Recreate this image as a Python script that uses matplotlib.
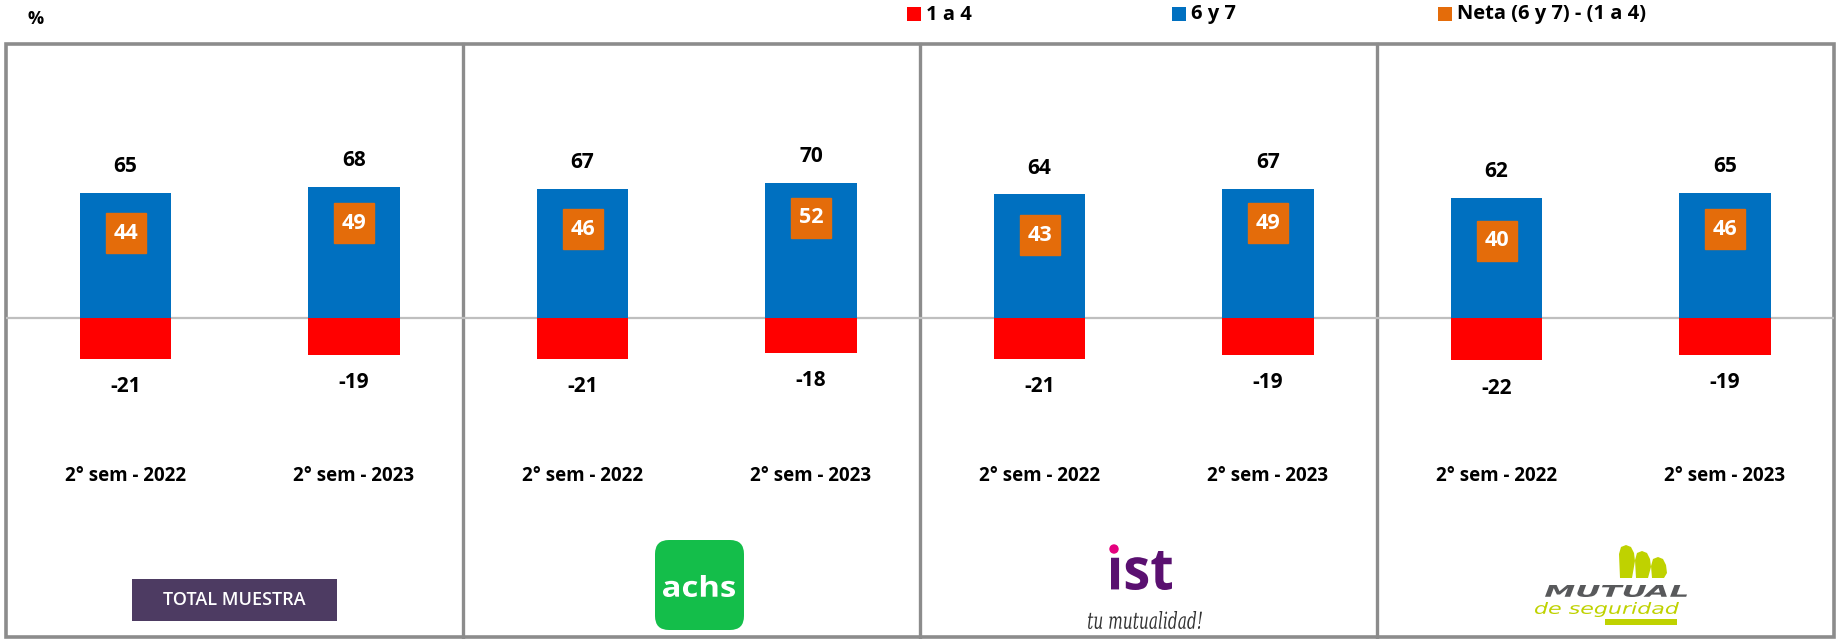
import matplotlib
matplotlib.use("Agg")
import matplotlib.pyplot as plt
from matplotlib.patches import Rectangle, FancyBboxPatch, Polygon, Circle, PathPatch
from matplotlib.textpath import TextPath
from matplotlib.font_manager import FontProperties
from matplotlib.transforms import Affine2D

plt.rcParams['font.family'] = ['Open Sans', 'DejaVu Sans']

# data
periods = ["2° sem - 2022", "2° sem - 2023"]
groups = ["TOTAL MUESTRA", "achs", "ist", "MUTUAL"]
top_6y7 = [[65, 68], [67, 70], [64, 67], [62, 65]]
low_1a4 = [[-21, -19], [-21, -18], [-21, -19], [-22, -19]]
neta = [[44, 49], [46, 52], [43, 49], [40, 46]]
legend_labels = ["1 a 4", "6 y 7", "Neta (6 y 7) - (1 a 4)"]

RED = "#FF0000"
BLUE = "#0070C0"
ORANGE = "#E46C0A"
GREY = "#8C8C8C"

W, H = 1837, 639
fig = plt.figure(figsize=(W / 100, H / 100), dpi=100)

# background axes in pixel coords (y down) for frame, legend and logos
bg = fig.add_axes([0, 0, 1, 1])
bg.set_xlim(0, W)
bg.set_ylim(H, 0)
bg.axis("off")


def fit_text(ax, s, box, color, prop):
    x0, y0, x1, y1 = box
    tp = TextPath((0, 0), s, size=100, prop=prop)
    ext = tp.get_extents()
    tr = (Affine2D().translate(-ext.x0, -ext.y0)
          .scale((x1 - x0) / ext.width, -(y1 - y0) / ext.height)
          .translate(x0, y1))
    ax.add_patch(PathPatch(tr.transform_path(tp), fc=color, ec="none"))


# frame
edges = [6, 463, 920, 1377, 1834]
y_top, y_bot = 44, 637
bg.add_patch(Rectangle((edges[0], y_top), edges[-1] - edges[0], y_bot - y_top,
                       fill=False, ec=GREY, lw=2.6))
for x in edges[1:-1]:
    bg.plot([x, x], [y_top, y_bot], color=GREY, lw=2.4)

# "%" and legend
bg.text(36, 19, "%", ha="center", va="center", fontsize=13, fontweight="bold")
leg_x = [907, 1172, 1438]
for x, c, lab in zip(leg_x, [RED, BLUE, ORANGE], legend_labels):
    bg.add_patch(Rectangle((x, 7), 14, 14, fc=c, ec="none"))
    bg.text(x + 19, 14.5, lab, ha="left", va="center", fontsize=14.5, fontweight="bold")

# panels
zero_px = 318
ppu = 1.93  # pixels per unit
unit_px = 228.5
x_first = 119.5
for i in range(4):
    L, R = edges[i], edges[i + 1]
    ax = fig.add_axes([L / W, 1 - y_bot / H, (R - L) / W, (y_bot - y_top) / H])
    ax.patch.set_visible(False)
    ax.axis("off")
    ax.set_ylim(-(y_bot - zero_px) / ppu, (zero_px - y_top) / ppu)
    xmin = -x_first / unit_px
    ax.set_xlim(xmin, xmin + (R - L) / unit_px)
    xs = list(range(len(periods)))
    ax.axhline(0, color="#BFBFBF", lw=1.6, zorder=1)
    ax.bar(xs, top_6y7[i], width=0.4, color=BLUE, zorder=2)
    ax.bar(xs, low_1a4[i], width=0.4, color=RED, zorder=2)
    ax.plot(xs, neta[i], linestyle="none", marker="s", ms=28.5, color=ORANGE, zorder=3)
    for x in xs:
        ax.annotate(str(top_6y7[i][x]), (x, top_6y7[i][x]), xytext=(0, 19),
                    textcoords="offset points", ha="center", va="center",
                    fontsize=15, fontweight="bold")
        ax.annotate(str(low_1a4[i][x]), (x, low_1a4[i][x]), xytext=(0, -20),
                    textcoords="offset points", ha="center", va="center",
                    fontsize=15, fontweight="bold")
        ax.text(x, neta[i][x], str(neta[i][x]), ha="center", va="center",
                color="white", fontsize=15.5, fontweight="bold", zorder=4)
        ax.text(x, -(476 - zero_px) / ppu, periods[x], ha="center", va="center",
                fontsize=13.5, fontweight="bold")

# logos
bg.add_patch(Rectangle((132, 579), 205, 42, fc="#4D3B62", ec="none"))
bg.text(234.5, 600, groups[0], ha="center", va="center", color="white",
        fontsize=13, fontweight="semibold")

bold = FontProperties(family="Open Sans", weight="bold")
bg.add_patch(FancyBboxPatch((655, 540), 89, 90, boxstyle="round,pad=0,rounding_size=14",
                            fc="#14BE4A", ec="none"))
fit_text(bg, groups[1], (663, 575, 735, 597), "white", bold)

fit_text(bg, "ıst", (1111, 551, 1172, 590), "#5A1070", bold)
bg.add_patch(Circle((1114, 549), 4.7, fc="#E5007E", ec="none"))
fit_text(bg, "tu mutualidad!", (1088, 611, 1202, 629), "#333333",
         FontProperties(family="DejaVu Serif", style="italic"))

lime = "#BFD200"
# three slanted stripes of the Mutual mark
for k, ytop in enumerate([545, 551, 557]):
    x0 = 1619 + 16 * k
    bg.add_patch(Polygon([(x0 + 1, 578), (x0, ytop + 9), (x0 + 2, ytop + 2), (x0 + 7, ytop),
                          (x0 + 12, ytop + 2), (x0 + 15, ytop + 8), (x0 + 16, ytop + 16),
                          (x0 + 13, 578)],
                         closed=True, fc=lime, ec="none"))
fit_text(bg, groups[3], (1545, 585, 1687, 597), "#58595B",
         FontProperties(family="DejaVu Sans", weight="bold", style="italic"))
fit_text(bg, "de seguridad", (1535, 602, 1679, 617), lime,
         FontProperties(family="DejaVu Sans", style="italic"))
bg.add_patch(Rectangle((1605, 619), 72, 6, fc=lime, ec="none"))

fig.savefig("out.png", dpi=100)
